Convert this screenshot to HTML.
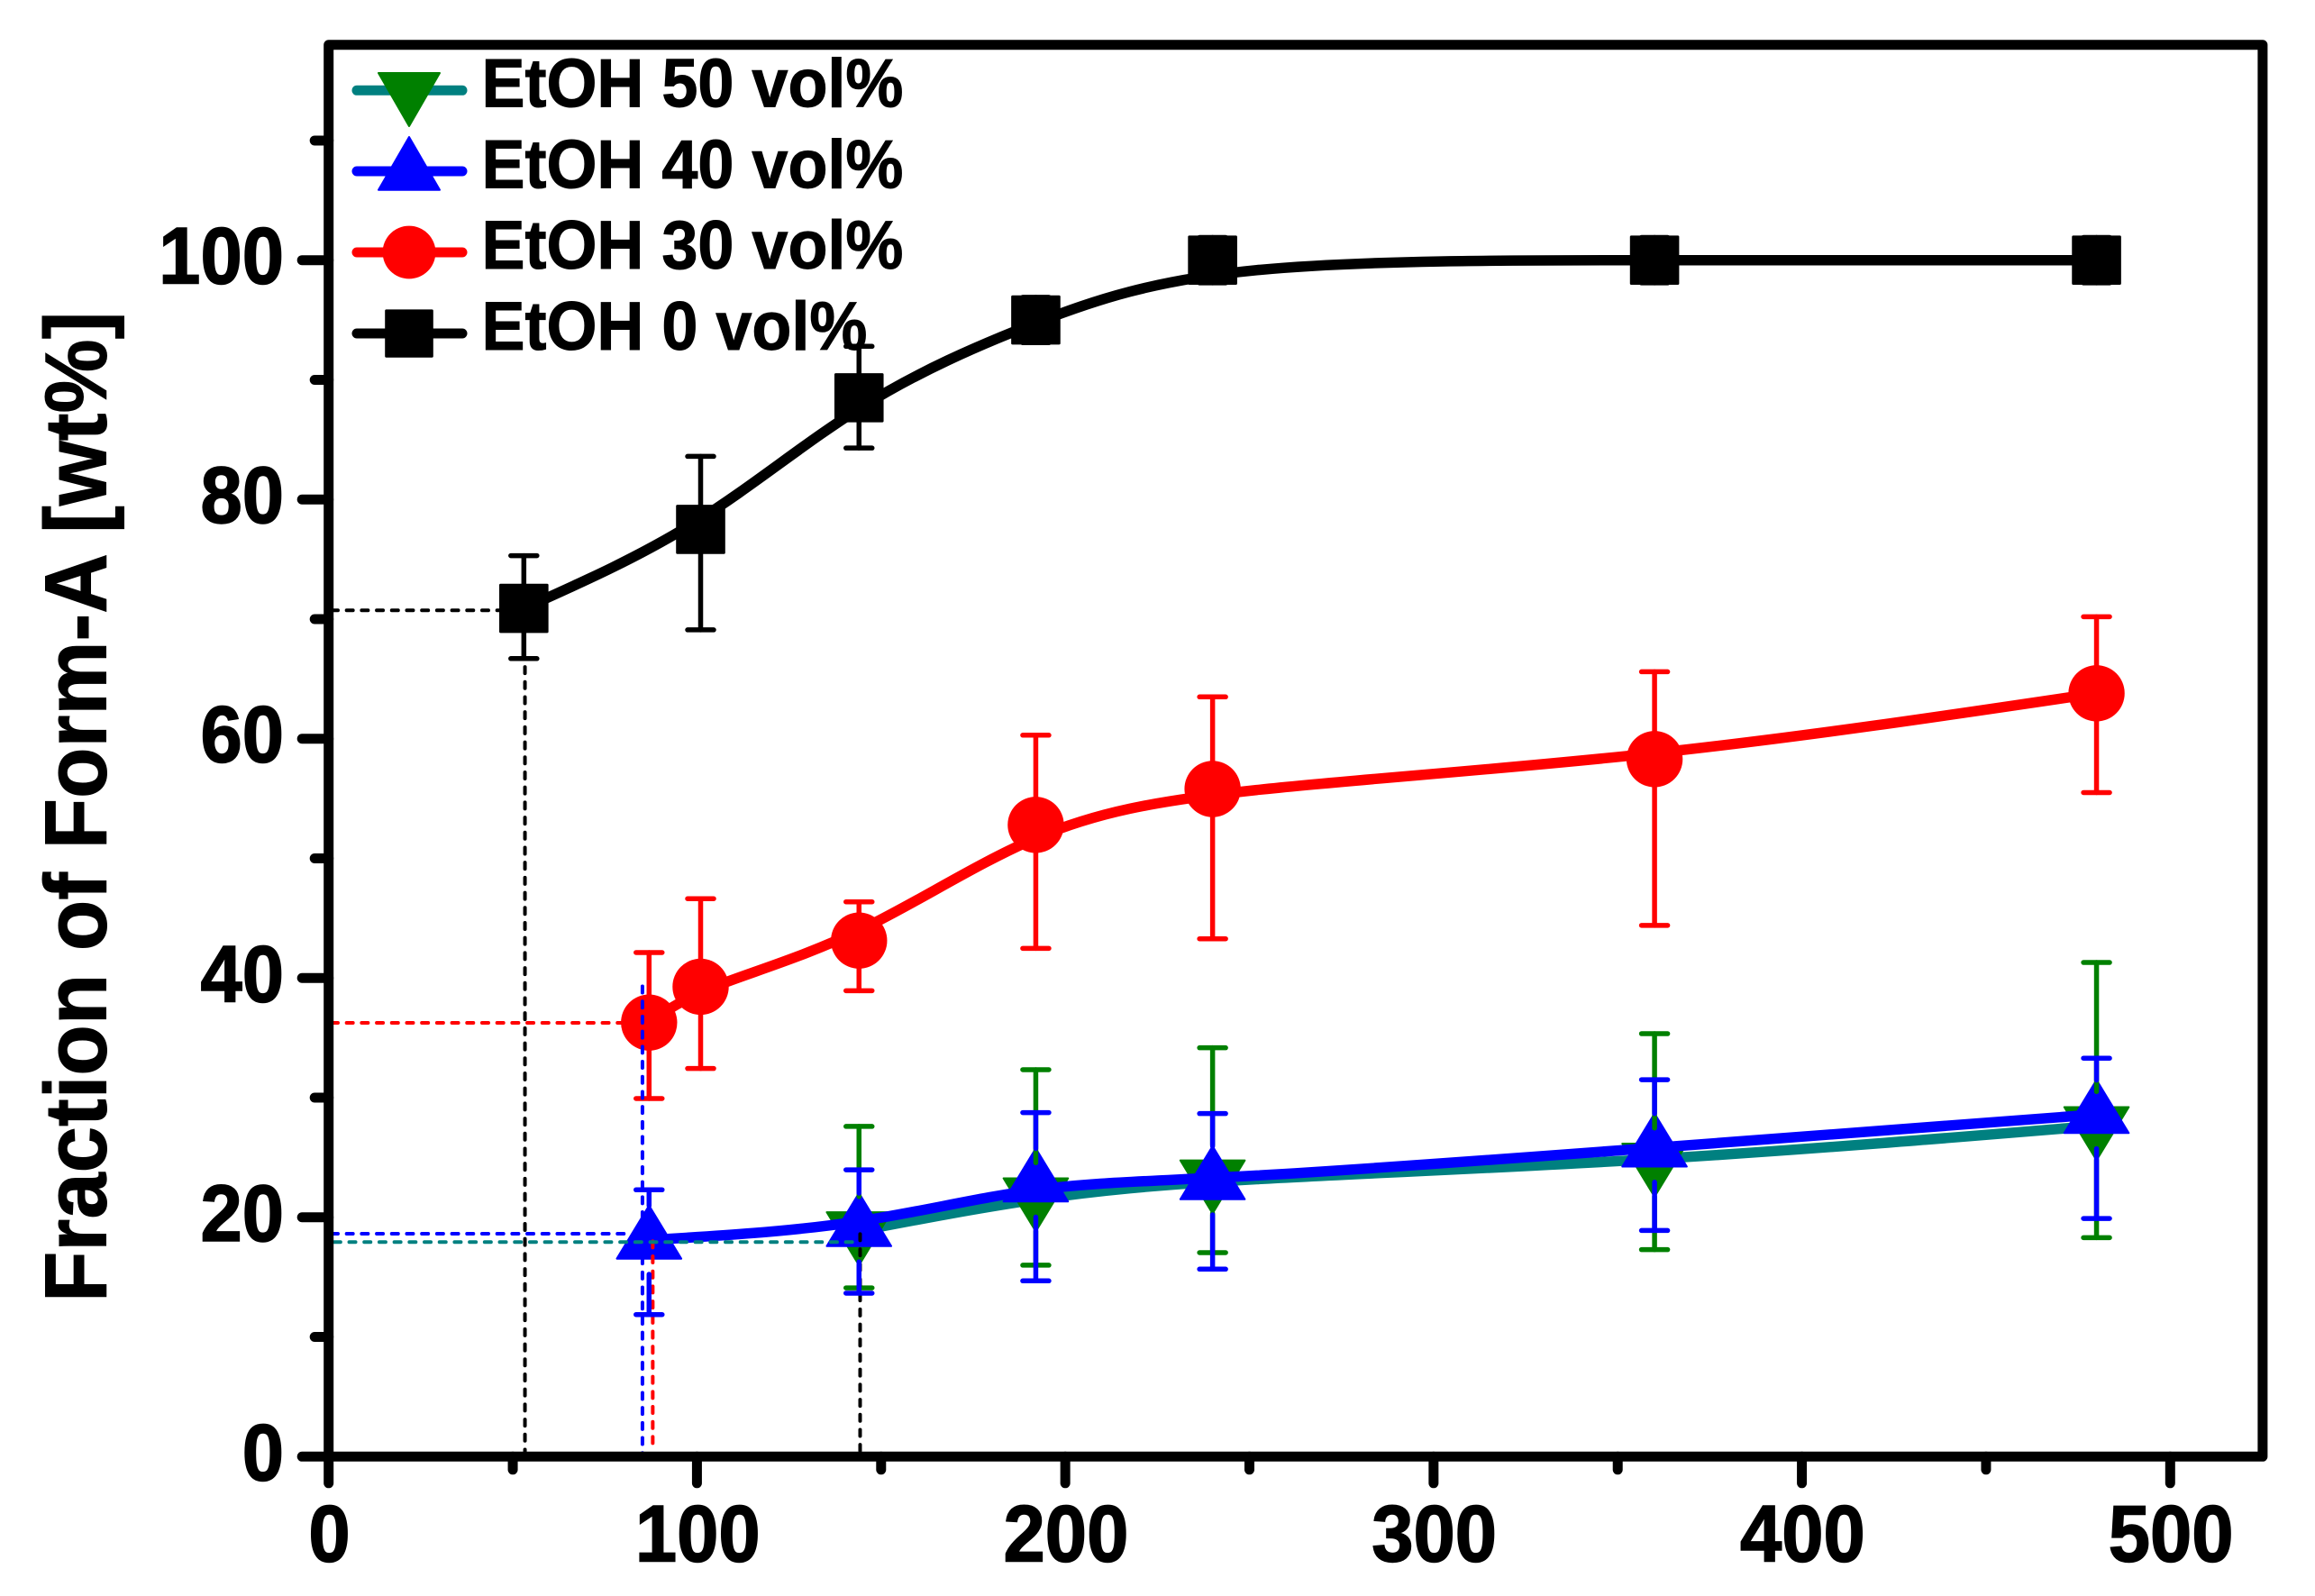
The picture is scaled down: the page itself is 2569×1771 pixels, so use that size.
<!DOCTYPE html>
<html lang="en">
<head>
<meta charset="utf-8">
<title>Fraction of Form-A vs time</title>
<style>
html,body{margin:0;padding:0;background:#fff;}
svg{display:block;}
text{font-family:"Liberation Sans",Arial,sans-serif;font-weight:bold;fill:#000;stroke:#000;}
.tick{font-size:89px;stroke-width:1.5px;}
.leg{font-size:76px;stroke-width:1px;}
.ttl{font-size:97px;stroke-width:1px;}
</style>
</head>
<body>
<svg id="chart" xmlns="http://www.w3.org/2000/svg" width="2569" height="1771" viewBox="0 0 2569 1771">
  <rect x="0" y="0" width="2569" height="1771" fill="#fff"/>
  <g id="series"></g>
  <g id="axes"></g>
  <text class="ttl" transform="translate(117.3,1445) rotate(-90) scale(0.952,1)" x="0" y="0">Fraction of Form-A [wt%]</text>
  <g>
    <g>
      <line x1="396" y1="100.3" x2="513" y2="100.3" stroke="#008080" stroke-width="11" stroke-linecap="round"/>
      <polygon points="420,81 488,81 454,140" fill="#008000" stroke="#008000" stroke-width="2" stroke-linejoin="round"/>
      <text class="leg" transform="translate(534.5,118.3) scale(0.947,1)" x="0" y="0">EtOH 50 vol%</text>
    </g>
    <g>
      <line x1="396" y1="190" x2="513" y2="190" stroke="#0000ff" stroke-width="11" stroke-linecap="round"/>
      <polygon points="420,210.7 488,210.7 454,152" fill="#0000ff" stroke="#0000ff" stroke-width="2" stroke-linejoin="round"/>
      <text class="leg" transform="translate(534.5,208.3) scale(0.947,1)" x="0" y="0">EtOH 40 vol%</text>
    </g>
    <g>
      <line x1="396" y1="280" x2="513" y2="280" stroke="#ff0000" stroke-width="11" stroke-linecap="round"/>
      <circle cx="454" cy="280" r="29.4" fill="#ff0000"/>
      <text class="leg" transform="translate(534.5,298) scale(0.947,1)" x="0" y="0">EtOH 30 vol%</text>
    </g>
    <g>
      <line x1="396" y1="370" x2="513" y2="370" stroke="#000" stroke-width="11" stroke-linecap="round"/>
      <rect x="427.2" y="343.4" width="53.6" height="53.4" rx="1.5" fill="#000"/>
      <text class="leg" transform="translate(534.5,388) scale(0.947,1)" x="0" y="0">EtOH 0 vol%</text>
    </g>
  </g>
</svg>
<script>
// ---- chart data ----
const xMajorTicks = [0, 100, 200, 300, 400, 500];
const xMinorTicks = [50, 150, 250, 350, 450];
const yMajorTicks = [0, 20, 40, 60, 80, 100];
const yMinorTicks = [10, 30, 50, 70, 90, 110];

const timeEtoh0 = [53, 101, 144, 192, 240, 360, 480];
const valueEtoh0 = [70.9, 77.5, 88.5, 95, 100, 100, 100];
const upperEtoh0 = [75.3, 83.6, 92.8, 96.9, 101.9, 101.9, 101.9];
const lowerEtoh0 = [66.7, 69.1, 84.3, 93.1, 98.1, 98.1, 98.1];

const timeEtoh30 = [87, 101, 144, 192, 240, 360, 480];
const valueEtoh30 = [36.28, 39.27, 43.13, 52.8, 55.8, 58.3, 63.8];
const upperEtoh30 = [42.13, 46.63, 46.37, 60.3, 63.5, 65.6, 70.2];
const lowerEtoh30 = [29.93, 32.44, 38.94, 42.48, 43.28, 44.4, 55.5];

const timeEtoh40 = [87, 144, 192, 240, 360, 480];
const valueEtoh40 = [18.1, 19.15, 22.88, 23.07, 25.8, 28.6];
const upperEtoh40 = [22.3, 23.97, 28.75, 28.67, 31.5, 33.3];
const lowerEtoh40 = [11.87, 13.66, 14.69, 15.67, 18.9, 19.9];

const timeEtoh50 = [144, 192, 240, 360, 480];
const valueEtoh50 = [18.87, 21.7, 23.2, 24.6, 27.65];
const upperEtoh50 = [27.6, 32.34, 34.17, 35.35, 41.3];
const lowerEtoh50 = [14.1, 16.0, 17.05, 17.3, 18.3];

// dashed read-off guides, in data units: [x1, y1, x2, y2]
const guideBlackH = [0.8, 70.73, 50, 70.73];
const guideBlackV = [53.3, 66, 53.3, 0.4];
const guideBlackV2 = [144.3, 18.6, 144.3, 0.4];
const guideRedH = [0.8, 36.25, 82, 36.25];
const guideRedV = [88, 18, 88, 0.8];
const guideBlueH = [0.8, 18.63, 82, 18.63];
const guideBlueV = [85.2, 39.3, 85.2, -0.5];
const guideTealH = [1.5, 17.93, 144, 17.93];

// ---- axis functions ----
const xOrigin = 364.7, xPerUnit = 4.0872;
const yOrigin = 1616.3, yPerUnit = 13.276;
function xScale(v) { return xOrigin + v * xPerUnit; }
function yScale(v) { return yOrigin - v * yPerUnit; }

const NS = 'http://www.w3.org/2000/svg';
const axesLayer = document.getElementById('axes');
const seriesLayer = document.getElementById('series');

function svgEl(tag, parent) {
  const el = document.createElementNS(NS, tag);
  parent.appendChild(el);
  return el;
}

function segment(parent, name, x1, y1, x2, y2, color, width, dash) {
  const el = svgEl('line', parent);
  
  
  el.setAttribute('x1', x1);
  el.setAttribute('y1', y1);
  el.setAttribute('x2', x2);
  el.setAttribute('y2', y2);
  el.setAttribute('stroke', color);
  el.setAttribute('stroke-width', width);
  el.setAttribute('stroke-linecap', 'round');
  if (dash) el.setAttribute('stroke-dasharray', dash);
  return el;
}

function label(parent, name, txt, x, y, anchor) {
  const el = svgEl('text', parent);
  
  
  el.setAttribute('class', 'tick');
  el.setAttribute('transform', 'translate(' + x + ',' + y + ') scale(0.935,1)');
  el.setAttribute('x', 0);
  el.setAttribute('y', 0);
  el.setAttribute('text-anchor', anchor);
  el.textContent = txt;
  return el;
}

// cubic B-spline with the data as control points (ends pinned to first/last point)
function bsplinePath(xs, ys) {
  const px = xs.map(xScale), py = ys.map(yScale);
  const n = px.length;
  const P = (arr, i) => i < 0 ? 2 * arr[0] - arr[1] : i >= n ? 2 * arr[n - 1] - arr[n - 2] : arr[i];
  let d = 'M' + px[0].toFixed(2) + ' ' + py[0].toFixed(2);
  for (let i = 0; i < n - 1; i++) {
    const c1x = (2 * px[i] + px[i + 1]) / 3, c1y = (2 * py[i] + py[i + 1]) / 3;
    const c2x = (px[i] + 2 * px[i + 1]) / 3, c2y = (py[i] + 2 * py[i + 1]) / 3;
    const ex = (P(px, i) + 4 * P(px, i + 1) + P(px, i + 2)) / 6;
    const ey = (P(py, i) + 4 * P(py, i + 1) + P(py, i + 2)) / 6;
    d += ' C' + c1x.toFixed(2) + ' ' + c1y.toFixed(2) + ' ' + c2x.toFixed(2) + ' ' + c2y.toFixed(2) + ' ' + ex.toFixed(2) + ' ' + ey.toFixed(2);
  }
  return d;
}

function drawLine(name, xs, ys, color) {
  const el = svgEl('path', seriesLayer);
  
  
  el.setAttribute('d', bsplinePath(xs, ys));
  el.setAttribute('fill', 'none');
  el.setAttribute('stroke', color);
  el.setAttribute('stroke-width', 11.5);
  el.setAttribute('stroke-linecap', 'round');
  el.setAttribute('stroke-linejoin', 'round');
}

function drawErrors(prefix, xs, ys, ups, los, color, gap) {
  xs.forEach(function (t, i) {
    const cx = xScale(t), cy = yScale(ys[i]), top = yScale(ups[i]), bot = yScale(los[i]);
    segment(seriesLayer, prefix + '-error-stem-upper-' + t, cx, top, cx, cy - gap, color, 5.5);
    segment(seriesLayer, prefix + '-error-stem-lower-' + t, cx, bot, cx, cy + gap, color, 5.5);
    segment(seriesLayer, prefix + '-error-cap-upper-' + t, cx - 14.5, top, cx + 14.5, top, color, 5.5);
    segment(seriesLayer, prefix + '-error-cap-lower-' + t, cx - 14.5, bot, cx + 14.5, bot, color, 5.5);
  });
}

function drawSquares(xs, ys) {
  xs.forEach(function (t, i) {
    const el = svgEl('rect', seriesLayer);
    
    
    el.setAttribute('x', xScale(t) - 27.3);
    el.setAttribute('y', yScale(ys[i]) - 27.3);
    el.setAttribute('width', 54.6);
    el.setAttribute('height', 54.6);
    el.setAttribute('rx', 1.5);
    el.setAttribute('fill', '#000');
  });
}

function drawCircles(xs, ys) {
  xs.forEach(function (t, i) {
    const el = svgEl('circle', seriesLayer);
    
    
    el.setAttribute('cx', xScale(t));
    el.setAttribute('cy', yScale(ys[i]));
    el.setAttribute('r', 31.2);
    el.setAttribute('fill', '#ff0000');
  });
}

function drawTriangles(prefix, xs, ys, color, dir) {
  xs.forEach(function (t, i) {
    const cx = xScale(t), cy = yScale(ys[i]);
    const el = svgEl('polygon', seriesLayer);
    
    
    const base = cy + dir * 20.7, tip = cy - dir * 38.3;
    el.setAttribute('points', (cx - 35.8) + ',' + base + ' ' + (cx + 35.8) + ',' + base + ' ' + cx + ',' + tip);
    el.setAttribute('fill', color);
    el.setAttribute('stroke', color);
    el.setAttribute('stroke-width', 2);
    el.setAttribute('stroke-linejoin', 'round');
  });
}

function drawGuide(name, g, color) {
  segment(seriesLayer, name, xScale(g[0]), yScale(g[1]), xScale(g[2]), yScale(g[3]), color, 4, '7 9.7');
}

// ---- series, back to front ----
drawLine('etoh-0-line', timeEtoh0, valueEtoh0, '#000');
drawErrors('etoh-0', timeEtoh0, valueEtoh0, upperEtoh0, lowerEtoh0, '#000', 0);
drawSquares(timeEtoh0, valueEtoh0);

drawLine('etoh-30-line', timeEtoh30, valueEtoh30, '#ff0000');
drawErrors('etoh-30', timeEtoh30, valueEtoh30, upperEtoh30, lowerEtoh30, '#ff0000', 0);
drawCircles(timeEtoh30, valueEtoh30);

drawLine('etoh-50-line', timeEtoh50, valueEtoh50, '#008080');
drawTriangles('etoh-50', timeEtoh50, valueEtoh50, '#008000', -1);
drawLine('etoh-40-line', timeEtoh40, valueEtoh40, '#0000ff');
drawTriangles('etoh-40', timeEtoh40, valueEtoh40, '#0000ff', 1);
drawErrors('etoh-50', timeEtoh50, valueEtoh50, upperEtoh50, lowerEtoh50, '#008000', 38);

drawGuide('guide-black-horizontal', guideBlackH, '#000');
drawGuide('guide-black-vertical-53', guideBlackV, '#000');
drawGuide('guide-black-vertical-144', guideBlackV2, '#000');
drawGuide('guide-red-horizontal', guideRedH, '#ff0000');
drawGuide('guide-red-vertical', guideRedV, '#ff0000');
drawGuide('guide-blue-horizontal', guideBlueH, '#0000ff');
drawGuide('guide-blue-vertical', guideBlueV, '#0000ff');
drawGuide('guide-teal-horizontal', guideTealH, '#008080');
drawErrors('etoh-40', timeEtoh40, valueEtoh40, upperEtoh40, lowerEtoh40, '#0000ff', 38);

// ---- axes ----
const frameTop = yScale(118), frameRight = xScale(525.1);
const frame = svgEl('rect', axesLayer);


frame.setAttribute('x', xOrigin);
frame.setAttribute('y', frameTop);
frame.setAttribute('width', frameRight - xOrigin);
frame.setAttribute('height', yOrigin - frameTop);
frame.setAttribute('fill', 'none');
frame.setAttribute('stroke', '#000');
frame.setAttribute('stroke-width', 11);
frame.setAttribute('stroke-linejoin', 'round');

xMajorTicks.forEach(function (v) {
  segment(axesLayer, 'x-tick-' + v, xScale(v), yOrigin, xScale(v), yOrigin + 29.5, '#000', 11);
  label(axesLayer, 'x-tick-label-' + v, String(v), xScale(v) + 0.8, 1732.7, 'middle');
});
xMinorTicks.forEach(function (v) {
  segment(axesLayer, 'x-minor-tick-' + v, xScale(v), yOrigin, xScale(v), yOrigin + 14.5, '#000', 11);
});
yMajorTicks.forEach(function (v) {
  segment(axesLayer, 'y-tick-' + v, xOrigin, yScale(v), xOrigin - 29.5, yScale(v), '#000', 11);
  label(axesLayer, 'y-tick-label-' + v, String(v), 315, yScale(v) + 26, 'end');
});
yMinorTicks.forEach(function (v) {
  segment(axesLayer, 'y-minor-tick-' + v, xOrigin, yScale(v), xOrigin - 15.5, yScale(v), '#000', 11);
});
</script>
</body>
</html>
